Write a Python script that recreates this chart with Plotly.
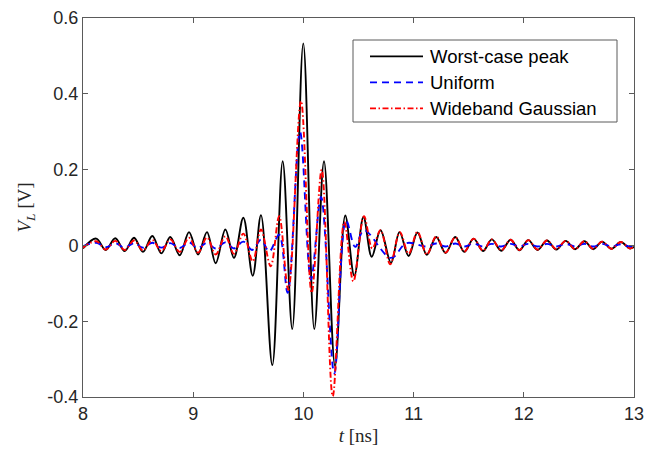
import plotly.graph_objects as go

# ---- data (extrema) ----
t_worst = [8.00, 8.12, 8.206, 8.293, 8.378, 8.463, 8.544, 8.629, 8.711, 8.792, 8.877, 8.962,
           9.044, 9.125, 9.204, 9.292, 9.37, 9.455, 9.54, 9.615, 9.718, 9.812, 9.899, 9.999,
           10.099, 10.187, 10.287, 10.38, 10.462, 10.545, 10.62, 10.70, 10.795, 10.872, 10.955,
           11.035, 11.12, 11.205, 11.29, 11.378, 11.46, 11.545, 11.63, 11.71, 11.795, 11.88,
           11.96, 12.04, 12.125, 12.21, 12.295, 12.38, 12.465, 12.55, 12.63, 12.71, 12.795,
           12.88, 12.96, 13.0]
v_worst = [-0.008, 0.018, -0.012, 0.019, -0.015, 0.020, -0.017, 0.025, -0.021, 0.022, -0.026, 0.035,
           -0.024, 0.035, -0.047, 0.042, -0.033, 0.073, -0.080, 0.080, -0.316, 0.222, -0.221, 0.533,
           -0.221, 0.222, -0.318, 0.079, -0.080, 0.075, -0.030, 0.040, -0.046, 0.035, -0.028,
           0.034, -0.025, 0.022, -0.020, 0.022, -0.017, 0.018, -0.015, 0.016, -0.014, 0.015,
           -0.013, 0.014, -0.012, 0.013, -0.011, 0.012, -0.010, 0.011, -0.010, 0.010, -0.009,
           0.009, -0.008, -0.004]

t_uniform = [8.00, 8.12, 8.206, 8.293, 8.378, 8.463, 8.544, 8.629, 8.711, 8.792, 8.877, 8.962,
             9.044, 9.125, 9.204, 9.292, 9.37, 9.455, 9.536, 9.615, 9.69, 9.78, 9.857, 9.969,
             10.069, 10.16, 10.28, 10.387, 10.47, 10.55, 10.795, 10.935, 11.12, 11.205, 11.29,
             11.378, 11.46, 11.545, 11.63, 11.71, 11.795, 11.88, 11.96, 12.04, 12.125, 12.21,
             12.295, 12.38, 12.465, 12.55, 12.63, 12.71, 12.795, 12.88, 12.96, 13.0]
v_uniform = [-0.002, 0.007, -0.005, 0.006, -0.006, 0.006, -0.006, 0.007, -0.006, 0.006, -0.007, 0.008,
             -0.007, 0.007, -0.008, 0.008, -0.008, 0.010, -0.012, 0.015, -0.016, 0.028, -0.125, 0.300,
             -0.090, 0.128, -0.338, 0.066, -0.004, 0.040, -0.033, 0.006, -0.003, 0.005, -0.003,
             0.005, -0.003, 0.005, -0.003, 0.004, -0.003, 0.004, -0.003, 0.004, -0.003, 0.004,
             -0.003, 0.004, -0.003, 0.004, -0.003, 0.004, -0.003, 0.003, -0.003, -0.001]

t_gauss = [8.00, 8.12, 8.206, 8.293, 8.378, 8.463, 8.544, 8.629, 8.711, 8.792, 8.877, 8.962,
           9.044, 9.125, 9.204, 9.292, 9.37, 9.455, 9.54, 9.615, 9.703, 9.78, 9.863, 9.978,
           10.075, 10.166, 10.266, 10.371, 10.453, 10.55, 10.625, 10.70, 10.788, 10.875, 10.955,
           11.035, 11.12, 11.205, 11.29, 11.378, 11.46, 11.545, 11.63, 11.71, 11.795, 11.88,
           11.96, 12.04, 12.125, 12.21, 12.295, 12.38, 12.465, 12.55, 12.63, 12.71, 12.795,
           12.88, 12.96, 13.0]
v_gauss = [-0.006, 0.011, -0.011, 0.012, -0.012, 0.013, -0.013, 0.014, -0.015, 0.016, -0.017, 0.020,
           -0.019, 0.021, -0.024, 0.024, -0.022, 0.031, -0.042, 0.042, -0.055, 0.077, -0.117, 0.381,
           -0.125, 0.200, -0.398, 0.062, -0.095, 0.077, -0.008, 0.040, -0.050, 0.035, -0.022,
           0.036, -0.024, 0.024, -0.019, 0.022, -0.016, 0.018, -0.014, 0.016, -0.013, 0.015,
           -0.012, 0.014, -0.011, 0.013, -0.010, 0.012, -0.010, 0.011, -0.009, 0.010, -0.009,
           0.009, -0.008, -0.004]

x_ticks = [8, 9, 10, 11, 12, 13]
y_ticks = [-0.4, -0.2, 0, 0.2, 0.4, 0.6]
y_tick_labels = ["-0.4", "-0.2", "0", "0.2", "0.4", "0.6"]

names = ["Worst-case peak", "Uniform", "Wideband Gaussian"]
colors = ["#000000", "#0000ff", "#ff0000"]
dashes = ["solid", "7px,5px", "6px,2.5px,1.5px,2.5px"]

AX = "#5a5a5a"
TXT = "#262626"
SANS = "Liberation Sans, Arial, Helvetica, sans-serif"
SERIF = "Liberation Serif, DejaVu Serif, serif"

FIG_W, FIG_H = 645, 458
# plot-area edges in window pixels
L, R, T, B = 83, 634, 18, 397

fig = go.Figure()
series = [(t_worst, v_worst), (t_uniform, v_uniform), (t_gauss, v_gauss)]
for (tx, vy), nm, c, d in zip(series, names, colors, dashes):
    fig.add_trace(go.Scatter(x=tx, y=vy, name=nm, mode="lines", showlegend=False,
                             line=dict(color=c, width=1.9, dash=d, shape="spline", smoothing=1.0)))

axis_common = dict(showgrid=False, zeroline=False, showline=True, linecolor=AX, linewidth=1,
                   mirror="ticks", ticks="inside", ticklen=5, tickcolor=AX, tickwidth=1,
                   automargin=False,
                   tickfont=dict(family=SANS, size=18, color=TXT))

fig.update_xaxes(range=[8, 13], tickvals=x_ticks, ticktext=[str(v) for v in x_ticks],
                 title=dict(text="<i>t</i> [ns]", font=dict(family=SERIF, size=19, color=TXT), standoff=6),
                 **axis_common)
fig.update_yaxes(range=[-0.4, 0.6], tickvals=y_ticks, ticktext=y_tick_labels,
                 title=dict(text="<i>V</i><sub><i>L</i></sub> [V]", font=dict(family=SERIF, size=19, color=TXT), standoff=10),
                 **axis_common)

# ---- legend drawn as a MATLAB-style box (paper coordinates) ----
def px(xp):
    return (xp - L) / (R - L)
def py(yp):
    return 1 - (yp - T) / (B - T)

shapes = [dict(type="rect", xref="paper", yref="paper",
               x0=px(353), x1=px(617), y0=py(122), y1=py(40),
               line=dict(color=AX, width=1), fillcolor="white", layer="above")]
annotations = []
row_y = [56.4, 82.4, 108.4]
for nm, c, d, ry in zip(names, colors, dashes, row_y):
    shapes.append(dict(type="line", xref="paper", yref="paper",
                       x0=px(370), x1=px(423), y0=py(ry), y1=py(ry),
                       line=dict(color=c, width=1.9, dash=d), layer="above"))
    annotations.append(dict(xref="paper", yref="paper", x=px(428), y=py(ry),
                            xanchor="left", yanchor="middle", showarrow=False, text=nm,
                            font=dict(family=SANS, size=18.5, color="#000000")))

fig.update_layout(
    width=FIG_W, height=FIG_H,
    margin=dict(l=L, r=FIG_W - R, t=T, b=FIG_H - B),
    paper_bgcolor="white", plot_bgcolor="white",
    showlegend=False,
    shapes=shapes, annotations=annotations,
)

# remove the browser's default 8px body margin so the figure sits at the window origin
fig.write_html("out.html",
               config={"displayModeBar": False, "staticPlot": True},
               post_script="document.body.style.margin='0';document.body.style.overflow='hidden';")
